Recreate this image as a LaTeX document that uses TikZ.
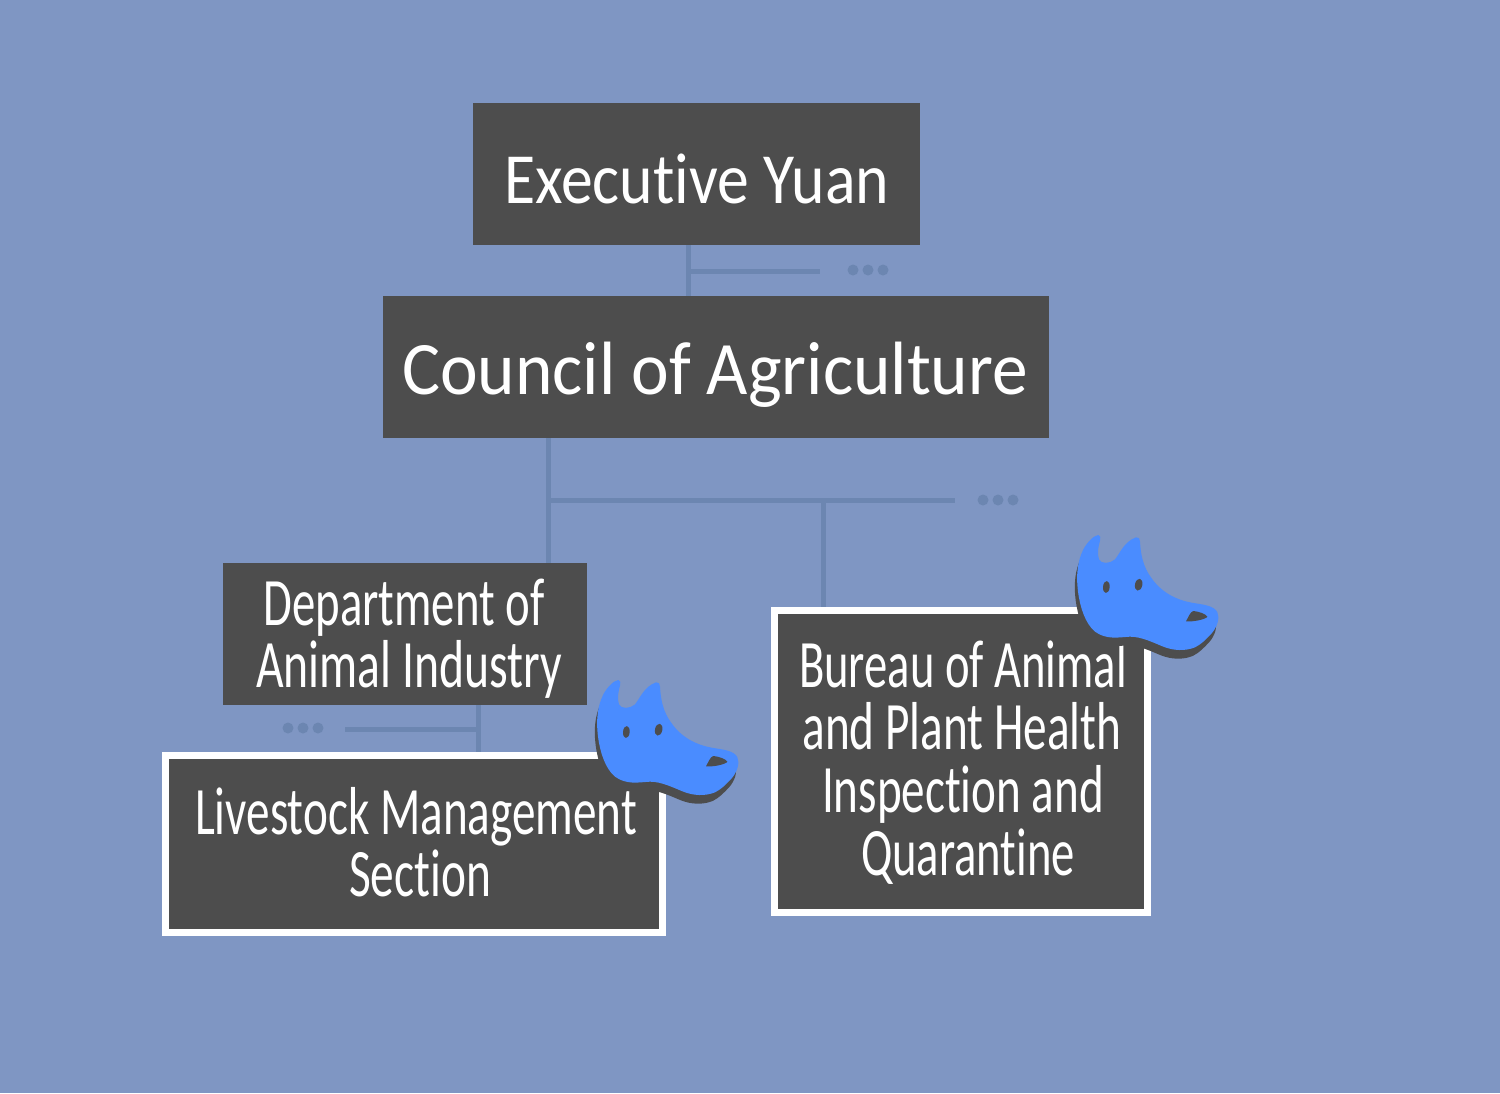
\documentclass[tikz,border=0pt]{standalone}
\usepackage{graphicx}
\usepackage{fontspec}
\setmainfont[Ligatures=NoCommon]{Carlito}
\definecolor{bgc}{HTML}{7F96C3}
\definecolor{boxc}{HTML}{4D4D4D}
\definecolor{linec}{HTML}{6C86B1}
\definecolor{headc}{HTML}{4A8CFF}
\newlength\pxu \pxu=0.02cm
% one line of text: centre offset from the box centre, width, text
\newcommand\fl[3]{\smash{\makebox[0pt][c]{\hspace{\dimexpr 2\dimexpr #1\pxu\relax\relax}\resizebox{#2\pxu}{\height}{#3}}}}
% block of lines: first baseline relative to the box centre (px, downward)
\newcommand\blk[2]{\smash{\raisebox{-#1\pxu}{\begin{tabular}[t]{@{}c@{}}#2\end{tabular}}}}
\newcommand\headshape{(145,45) .. controls (152,46) and (152,54) .. (150,62)
 .. controls (145,80) and (141,100) .. (147,118) .. controls (152,132) and (180,132) .. (195,118)
 .. controls (210,100) and (222,65) .. (258,52) .. controls (266,50) and (270,56) .. (270,65)
 .. controls (272,100) and (278,140) .. (305,175) .. controls (335,218) and (380,240) .. (425,248)
 .. controls (460,254) and (490,256) .. (502,276) .. controls (510,295) and (502,320) .. (485,340)
 .. controls (468,358) and (455,372) .. (435,382) .. controls (405,394) and (370,392) .. (340,380)
 .. controls (310,368) and (275,350) .. (240,350) .. controls (205,352) and (170,360) .. (135,335)
 .. controls (105,310) and (90,260) .. (84,215) .. controls (78,165) and (82,125) .. (100,88)
 .. controls (112,66) and (132,46) .. (145,45) -- cycle}
\newcommand\wolf[2]{%
 \begin{scope}[shift={(#1,#2)},x=0.02cm/3,y=-0.02cm/3]
  \fill[boxc,shift={(-7,26)}] \headshape;
  \fill[headc] \headshape;
  \fill[boxc] (169,201) ellipse[x radius=10,y radius=18,rotate=-5];
  \fill[boxc] (266,194) ellipse[x radius=11,y radius=18,rotate=-12];
  \fill[boxc] (408,304) .. controls (415,292) and (420,276) .. (430,273)
    .. controls (445,274) and (468,282) .. (472,290) .. controls (468,298) and (430,306) .. (408,304) -- cycle;
 \end{scope}}
\tikzset{
 x=0.02cm,y=-0.02cm,
 orgbox/.style={fill=boxc,draw=none,inner sep=0pt,text=white,minimum width=#1},
 marked/.style={draw=white,line width=7\pxu},
 conn/.style={draw=linec,line width=5\pxu},
 morebullet/.style={circle,fill=linec,inner sep=0pt,minimum size=11\pxu,draw=none},
 bigf/.style={font=\fontsize{41pt}{36pt}\selectfont},
 hugef/.style={font=\fontsize{43pt}{36pt}\selectfont},
 midf/.style={font=\fontsize{38.6pt}{35.7pt}\selectfont},
}
\begin{document}
\begin{tikzpicture}
\useasboundingbox (0,0) rectangle (1500,1093);
\fill[bgc] (0,0) rectangle (1500,1093);
% boxes
\node[orgbox=447\pxu,minimum height=142\pxu,bigf] (exec) at (696.5,174)
 {\blk{29}{\fl{0}{385}{Executive Yuan}}};
\node[orgbox=666\pxu,minimum height=142\pxu,hugef] (council) at (716,367)
 {\blk{27.5}{\fl{-1}{626}{Council of Agriculture}}};
\node[orgbox=364\pxu,minimum height=142\pxu,midf] (dept) at (405,634)
 {\blk{-9}{\fl{-1}{281}{Department of}\\\fl{4}{306}{Animal Industry}}};
\node[orgbox=497\pxu,minimum height=177\pxu,midf,marked] (live) at (414,844)
 {\blk{-10}{\fl{2}{442}{Livestock Management}\\\fl{6}{142}{Section}}};
\node[orgbox=373\pxu,minimum height=302\pxu,midf,marked] (bureau) at (961,761.5)
 {\blk{-74.5}{\fl{2}{328}{Bureau of Animal}\\\fl{1}{319}{and Plant Health}\\\fl{2}{282}{Inspection and}\\\fl{7}{214}{Quarantine}}};
% connectors
\coordinate (j1) at (688,271);
\coordinate (e1) at (820,271);
\coordinate (j2) at (548,500);
\coordinate (j3) at (823,500);
\coordinate (e2) at (955,500);
\coordinate (j4) at (478,729);
\coordinate (e4) at (345,729);
\draw[conn] (j1 |- exec.south) -- (j1 |- council.north);
\draw[conn] (j1) -- (e1);
\draw[conn] (j2 |- council.south) -- (j2 |- dept.north);
\draw[conn] (j2) -- (e2);
\draw[conn] (j3) -- (j3 |- bureau.north);
\draw[conn] (j4 |- dept.south) -- (j4 |- live.north);
\draw[conn] (j4) -- (e4);
% dots
\node[morebullet] (d1) at (853,270) {};
\node[morebullet] (d2) at (868,270) {};
\node[morebullet] (d3) at (883,270) {};
\node[morebullet] (d4) at (983,500) {};
\node[morebullet] (d5) at (998,500) {};
\node[morebullet] (d6) at (1013,500) {};
\node[morebullet] (d7) at (288,728) {};
\node[morebullet] (d8) at (303,728) {};
\node[morebullet] (d9) at (318,728) {};
% heads
\wolf{1050}{520}
\wolf{570}{665}
\end{tikzpicture}
\end{document}
